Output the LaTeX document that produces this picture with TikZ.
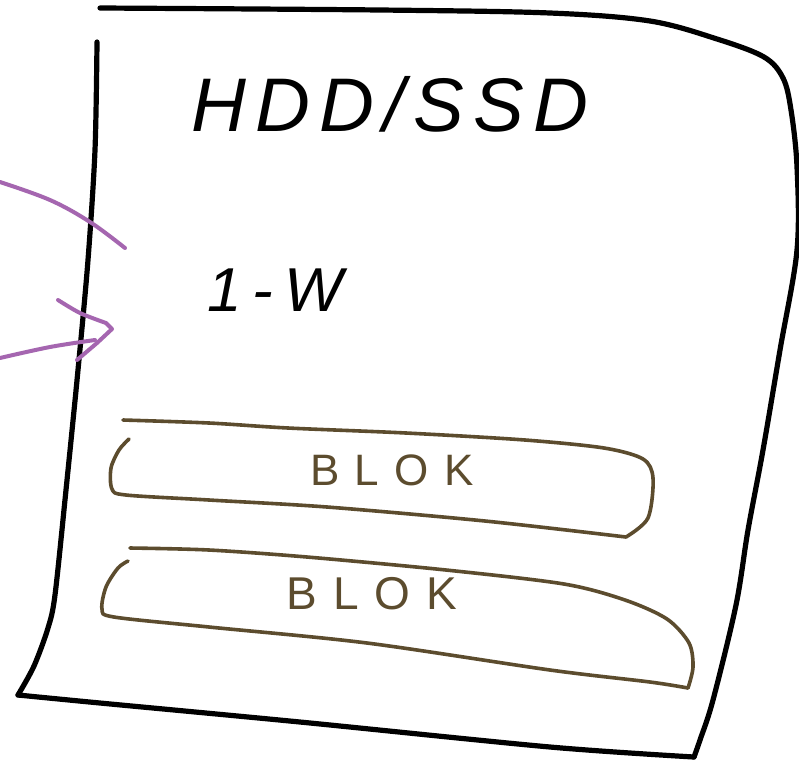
\documentclass[tikz,border=0pt]{standalone}
\usepackage{fontspec}
\newfontfamily\titlefont[LetterSpace=12]{Liberation Sans}
\newfontfamily\notefont[LetterSpace=18]{Liberation Sans}
\newfontfamily\blockfont[LetterSpace=35]{Liberation Sans}
\definecolor{penbrown}{RGB}{92,76,46}
\definecolor{penpurple}{RGB}{165,102,176}
\begin{document}
\begin{tikzpicture}[x=1pt,y=-1pt,
  ink/.style={line width=5.2pt,line cap=round,line join=round,black},
  boxline/.style={line width=3.6pt,line cap=round,line join=round,penbrown},
  pointer/.style={line width=4pt,line cap=round,line join=round,penpurple},
  handtext/.style={inner sep=0pt,anchor=center}]
\useasboundingbox (0,0) rectangle (799,764);
\fill[white] (0,0) rectangle (799,764);

% sheet outline: top and right edge
\draw[ink] plot[smooth,tension=0.55] coordinates {(100,8) (380,10) (550,13) (650,21) (717,39) (764,57) (783,78) (791,110) (797,167) (797,250) (780,350) (763,450) (748,530) (736,605) (713,700) (700,740) (694,757)};
% bottom edge
\draw[ink] plot[smooth,tension=0.5] coordinates {(694,757) (550,747) (300,722) (100,703) (18,695)};
% left edge
\draw[ink] plot[smooth,tension=0.5] coordinates {(18,695) (34,666) (48,628) (55,595) (66,490) (78,370) (88,260) (95,150) (97,42)};

% title and note
\node[handtext] (title) at (390,104) {\titlefont\itshape\fontsize{76}{76}\selectfont HDD/SSD};
\node[handtext] (note) at (275,290) {\notefont\itshape\fontsize{62}{62}\selectfont 1-W};

% first block
\draw[boxline] plot[smooth,tension=0.5] coordinates {(123,420) (209,423) (288,428) (406,433) (525,440) (604,448) (643,459) (653,478) (648,518) (626,537)};
\draw[boxline] plot[smooth,tension=0.5] coordinates {(626,537) (485,521) (327,507) (209,500) (126,495) (112,489) (111,468) (119,450) (129,439)};
\node[handtext,text=penbrown] (blockA) at (392,470) {\blockfont\fontsize{44}{44}\selectfont BLOK};

% second block
\draw[boxline] plot[smooth,tension=0.5] coordinates {(130,548) (209,550) (307,557) (446,570) (564,584) (625,600) (667,619) (689,643) (693,667) (688,688)};
\draw[boxline] plot[smooth,tension=0.5] coordinates {(688,688) (650,682) (550,670) (367,643) (209,627) (114,617) (102,609) (106,587) (118,568) (128,561)};
\node[handtext,text=penbrown] (blockB) at (372,594) {\blockfont\fontsize{46}{46}\selectfont BLOK};

% pointers coming in from the left
\coordinate (inA) at (0,182);
\coordinate (tipA) at (125,248);
\draw[pointer] plot[smooth,tension=0.6] coordinates {(inA) (50,200) (90,222) (tipA)};
\coordinate (inB) at (0,358);
\coordinate (tipB) at (112,329);
\draw[pointer] plot[smooth,tension=0.6] coordinates {(inB) (50,347) (95,340)};
\draw[pointer] plot[smooth,tension=0.5] coordinates {(58,300) (80,313) (106,323)} -- (tipB) -- (97,343) -- (77,360);
\end{tikzpicture}
\end{document}
